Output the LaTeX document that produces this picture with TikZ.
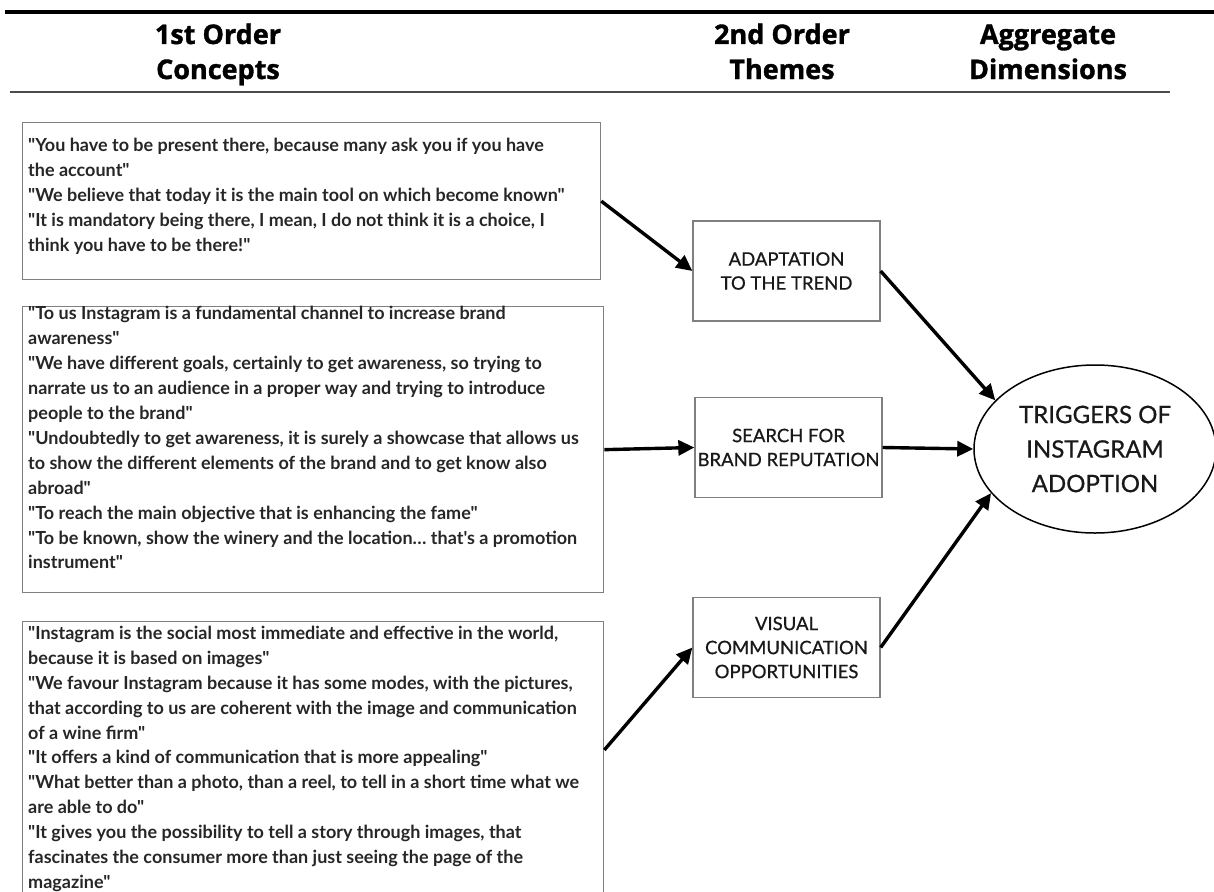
\documentclass[tikz,border=0pt]{standalone}
\usepackage{fontspec}
\setmainfont{Lato}
\newfontfamily\latofont{Lato}
\newfontfamily\medfont{Lato}[FakeBold=0.7]
\newfontfamily\headfont{Open Sans}[BoldFeatures={FakeBold=1.3}]
\usetikzlibrary{arrows.meta,shapes.geometric}
\begin{document}
\begin{tikzpicture}[x=1pt,y=-1pt,
  qbox/.style={draw=black!50, line width=1.3pt, inner sep=0pt, anchor=north west},
  qtext/.style={anchor=north west, inner sep=0pt, align=left, font=\latofont\bfseries\fontsize{18}{24.9}\selectfont, text=black!85},
  theme/.style={draw=black!50, line width=1.3pt, minimum width=187pt, minimum height=100pt, inner sep=0pt, align=center, font=\medfont\fontsize{18.5}{24}\selectfont, text=black!90},
  hdr/.style={anchor=base, inner sep=0pt, font=\headfont\bfseries\fontsize{27}{30}\selectfont},
  arr/.style={line width=3.4pt, -{Triangle[length=16pt,width=15pt]}},
  rulethick/.style={line width=4pt},
  rulethin/.style={line width=2pt, black!70}
]
\useasboundingbox (0,0) rectangle (1214,891);

% header rules
\coordinate (r1a) at (5,12);
\coordinate (r1b) at (1214,12);
\coordinate (r2a) at (10,92);
\coordinate (r2b) at (1170,92);
\draw[rulethick] (r1a) -- (r1b);
\draw[rulethin] (r2a) -- (r2b);

% headers
\node[hdr] (h1a) at (218,44) {1st Order};
\node[hdr] (h1b) at (218,79) {Concepts};
\node[hdr] (h2a) at (782,44) {2nd Order};
\node[hdr] (h2b) at (782,79) {Themes};
\node[hdr] (h3a) at (1048,44) {Aggregate};
\node[hdr] (h3b) at (1048,79) {Dimensions};

% quote boxes
\node[qbox, minimum width=578pt, minimum height=157pt] (b1) at (22,122) {};
\node[qtext] (q1) at (28,137.9) {"You have to be present there, because many ask you if you have\\the account"\\"We believe that today it is the main tool on which become known"\\"It is mandatory being there, I mean, I do not think it is a choice, I\\think you have to be there!"};

\node[qbox, minimum width=581pt, minimum height=286pt] (b2) at (22,306) {};
\node[qtext] (q2) at (28,306.4) {"To us Instagram is a fundamental channel to increase brand\\awareness"\\"We have different goals, certainly to get awareness, so trying to\\narrate us to an audience in a proper way and trying to introduce\\people to the brand"\\"Undoubtedly to get awareness, it is surely a showcase that allows us\\to show the different elements of the brand and to get know also\\abroad"\\"To reach the main objective that is enhancing the fame"\\"To be known, show the winery and the location\ldots{} that's a promotion\\instrument"};

\node[qbox, minimum width=581pt, minimum height=290pt] (b3) at (22,621) {};
\node[qtext] (q3) at (28,625.9) {"Instagram is the social most immediate and effective in the world,\\because it is based on images"\\"We favour Instagram because it has some modes, with the pictures,\\that according to us are coherent with the image and communication\\of a wine firm"\\"It offers a kind of communication that is more appealing"\\"What better than a photo, than a reel, to tell in a short time what we\\are able to do"\\"It gives you the possibility to tell a story through images, that\\fascinates the consumer more than just seeing the page of the\\magazine"};

% themes
\node[theme] (t1) at (786.5,271) {ADAPTATION\\TO THE TREND};
\node[theme] (t2) at (788.5,447.5) {SEARCH FOR\\BRAND REPUTATION};
\node[theme] (t3) at (786.5,647.5) {VISUAL\\COMMUNICATION\\OPPORTUNITIES};

% aggregate
\node[ellipse, draw, line width=1.5pt, minimum width=242pt, minimum height=168pt, inner sep=0pt, align=center, font=\medfont\fontsize{24}{34.5}\selectfont, text=black!90] (agg) at (1095,449) {TRIGGERS OF\\INSTAGRAM\\ADOPTION};

% arrows
\coordinate (s3) at ([yshift=-129pt]b3.north east);
\draw[arr] (b1.east) -- (t1.west);
\draw[arr] (b2.east) -- (t2.west);
\draw[arr] (s3) -- (t3.west);
\draw[arr] (t1.east) -- (agg.154);
\draw[arr] (t2.east) -- (agg.180);
\draw[arr] (t3.east) -- (agg.203);
\end{tikzpicture}
\end{document}
